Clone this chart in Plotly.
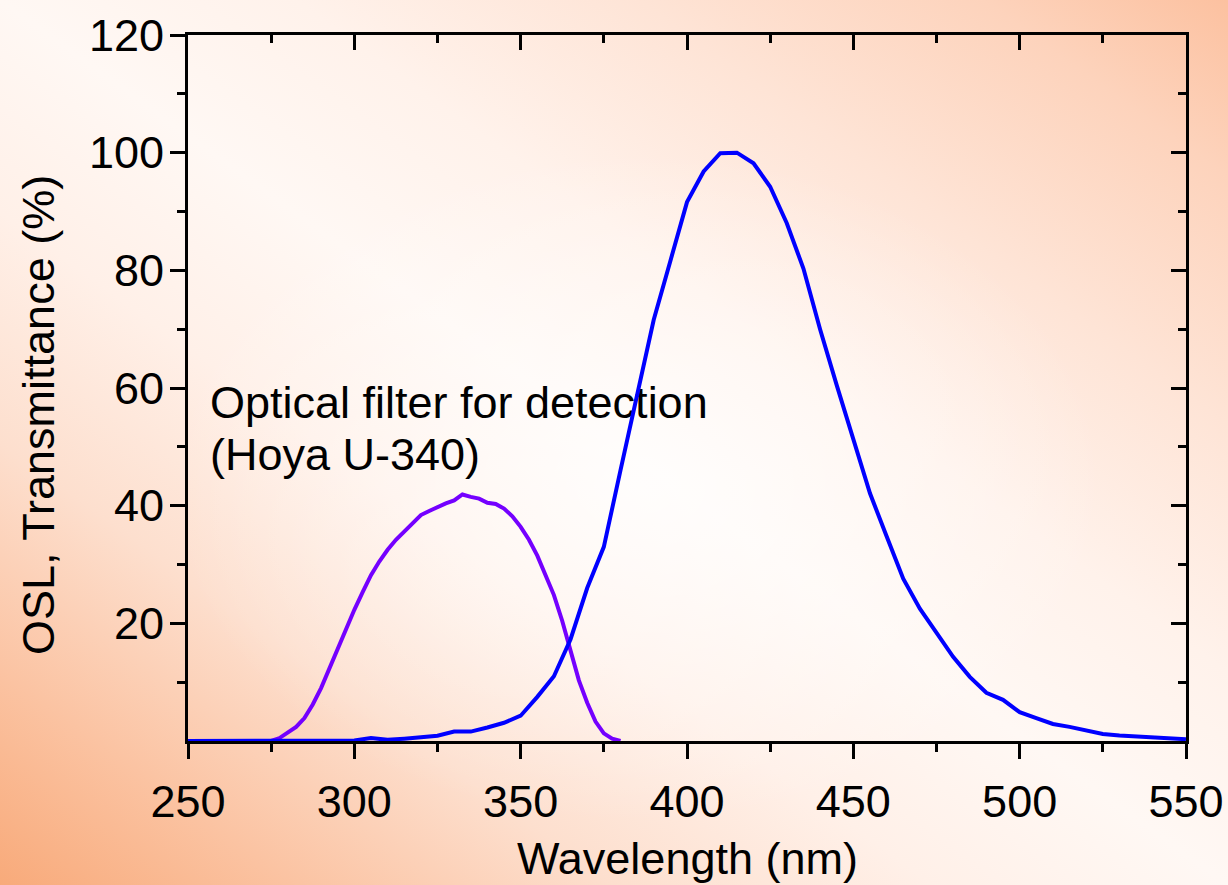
import base64
import plotly.graph_objects as go

# OSL emission spectrum (normalised, %)
osl_wavelength = [250, 255, 260, 265, 270, 275, 280, 285, 290, 295,
                  300, 305, 310, 315, 320, 325, 330, 335, 340, 345,
                  350, 355, 360, 365, 370, 375, 380, 385, 390, 395,
                  400, 405, 410, 415, 420, 425, 430, 435, 440, 445,
                  450, 455, 460, 465, 470, 475, 480, 485, 490, 495,
                  500, 505, 510, 515, 520, 525, 530, 535, 540, 545, 550]
osl_intensity = [0, 0, 0, 0, 0, 0, 0, 0, 0, 0,
                 0.1, 0.5, 0.2, 0.4, 0.6, 0.9, 1.6, 1.6, 2.3, 3.1,
                 4.3, 7.5, 11.0, 17.3, 26.0, 33.0, 46.0, 59.0, 71.6, 81.6,
                 91.6, 96.8, 99.9, 100.0, 98.2, 94.2, 88.0, 80.3, 70.0, 60.5,
                 51.2, 42.1, 34.8, 27.6, 22.5, 18.3, 14.3, 10.9, 8.2, 7.0,
                 4.9, 3.9, 2.9, 2.4, 1.75, 1.2, 0.95, 0.8, 0.57, 0.45, 0.3]

# Hoya U-340 filter transmittance (%)
filter_wavelength = [250, 255, 260, 265, 270, 275, 277.5, 280, 282.5, 285,
                     287.5, 290, 292.5, 295, 297.5, 300, 302.5, 305, 307.5, 310,
                     312.5, 315, 317.5, 320, 322.5, 325, 327.5, 330, 332.5, 335,
                     337.5, 340, 342.5, 345, 347.5, 350, 352.5, 355, 357.5, 360,
                     362.5, 365, 367.5, 370, 372.5, 375, 377.5, 380]
filter_transmittance = [0, 0, 0, 0, 0, 0, 0.5, 1.4, 2.4, 3.9,
                        6.2, 9.0, 12.3, 15.8, 19.2, 22.3, 25.3, 28.2, 30.5, 32.5,
                        34.2, 35.6, 36.8, 38.4, 39.1, 39.8, 40.4, 40.9, 41.9, 41.5,
                        41.2, 40.5, 40.3, 39.5, 38.2, 36.4, 34.2, 31.5, 28.3, 24.8,
                        20.4, 15.5, 10.3, 6.5, 3.3, 1.3, 0.4, 0]

x_ticks = [250, 300, 350, 400, 450, 500, 550]
x_minor = [275, 325, 375, 425, 475, 525]
y_ticks = [20, 40, 60, 80, 100, 120]
y_minor = [10, 30, 50, 70, 90, 110]

W, H = 1228, 885
ML, MR, MT, MB = 188, 42, 35, 144
PW, PH = W - ML - MR, H - MT - MB

FONT = "Arial, Liberation Sans, sans-serif"
FS = 45

# Diagonal peach background with a soft white centre
svg = f"""<svg xmlns='http://www.w3.org/2000/svg' width='{W}' height='{H}' viewBox='0 0 {W} {H}' preserveAspectRatio='none'>
<defs>
<linearGradient id='g' x1='0' y1='1' x2='1' y2='0'>
<stop offset='0' stop-color='#F8AA7A'/>
<stop offset='0.12' stop-color='#FBC3A2'/>
<stop offset='0.25' stop-color='#FDDFCE'/>
<stop offset='0.38' stop-color='#FFF0E8'/>
<stop offset='0.5' stop-color='#FFF8F4'/>
<stop offset='0.62' stop-color='#FFF2EB'/>
<stop offset='0.76' stop-color='#FEE4D6'/>
<stop offset='0.9' stop-color='#FDD3BC'/>
<stop offset='1' stop-color='#FCC1A0'/>
</linearGradient>
<radialGradient id='r' cx='0.52' cy='0.55' r='0.38'>
<stop offset='0' stop-color='#FFFFFF' stop-opacity='0.75'/>
<stop offset='1' stop-color='#FFFFFF' stop-opacity='0'/>
</radialGradient>
</defs>
<rect width='{W}' height='{H}' fill='url(#g)'/>
<rect width='{W}' height='{H}' fill='url(#r)'/>
</svg>"""
bg_uri = "data:image/svg+xml;base64," + base64.b64encode(svg.encode()).decode()

fig = go.Figure()

fig.add_trace(go.Scatter(
    x=[256.6, 256.6], y=[56.8, 47.9],
    text=["Optical filter for detection", "(Hoya U-340)"],
    mode="text", textposition="middle right",
    textfont=dict(family=FONT, size=FS, color="black"),
    hoverinfo="skip", cliponaxis=False,
))
fig.add_trace(go.Scatter(
    x=filter_wavelength, y=filter_transmittance, mode="lines",
    line=dict(color="#7400FF", width=4), name="Hoya U-340",
))
fig.add_trace(go.Scatter(
    x=osl_wavelength, y=osl_intensity, mode="lines",
    line=dict(color="#0000FF", width=4), name="OSL",
))

axis_common = dict(linecolor="black", linewidth=3, showgrid=False, zeroline=False,
                   tickcolor="black", tickwidth=3, ticklen=15, automargin=False,
                   tickfont=dict(family=FONT, size=FS, color="black"))

fig.update_layout(
    width=W, height=H, autosize=False,
    margin=dict(l=ML, r=MR, t=MT, b=MB, pad=0, autoexpand=False),
    paper_bgcolor="rgba(0,0,0,0)", plot_bgcolor="rgba(0,0,0,0)",
    showlegend=False,
    xaxis=dict(range=[250, 550], tickmode="array", tickvals=x_ticks,
               ticks="outside", showline=True, mirror=True, ticklabelstandoff=4,
               minor=dict(tickmode="array", tickvals=x_minor, ticks="outside",
                          ticklen=8, tickwidth=3, tickcolor="black"),
               **axis_common),
    yaxis=dict(range=[0, 120], tickmode="array", tickvals=y_ticks,
               ticks="outside", showline=True, mirror=True, ticklabelstandoff=-3,
               minor=dict(tickmode="array", tickvals=y_minor, ticks="outside",
                          ticklen=8, tickwidth=3, tickcolor="black"),
               **axis_common),
    xaxis2=dict(range=[250, 550], overlaying="x", side="top", anchor="y",
                tickmode="array", tickvals=x_ticks, ticks="inside",
                showticklabels=False, showline=False,
                minor=dict(tickmode="array", tickvals=x_minor, ticks="inside",
                           ticklen=8, tickwidth=3, tickcolor="black"),
                **axis_common),
    yaxis2=dict(range=[0, 120], overlaying="y", side="right", anchor="x",
                tickmode="array", tickvals=y_ticks, ticks="inside",
                showticklabels=False, showline=False,
                minor=dict(tickmode="array", tickvals=y_minor, ticks="inside",
                           ticklen=8, tickwidth=3, tickcolor="black"),
                **axis_common),
    images=[dict(source=bg_uri, xref="paper", yref="paper",
                 x=-ML / PW, y=1 + MT / PH, sizex=W / PW, sizey=H / PH,
                 xanchor="left", yanchor="top", sizing="stretch", layer="below")],
    annotations=[
        dict(text="Wavelength (nm)", xref="paper", yref="paper",
             x=0.5, y=(741 - 858) / PH, xanchor="center", yanchor="middle",
             showarrow=False, font=dict(family=FONT, size=FS, color="black")),
        dict(text="OSL, Transmittance (%)", xref="paper", yref="paper",
             x=(39 - ML) / PW, y=(741 - 415) / PH, xanchor="center", yanchor="middle",
             textangle=-90, showarrow=False,
             font=dict(family=FONT, size=FS, color="black")),
    ],
)

# invisible trace so the mirrored tick axes are attached to a subplot
fig.add_trace(go.Scatter(x=[None], y=[None], xaxis="x2", yaxis="y2",
                         showlegend=False, hoverinfo="skip"))

fig.write_html("out.html")
